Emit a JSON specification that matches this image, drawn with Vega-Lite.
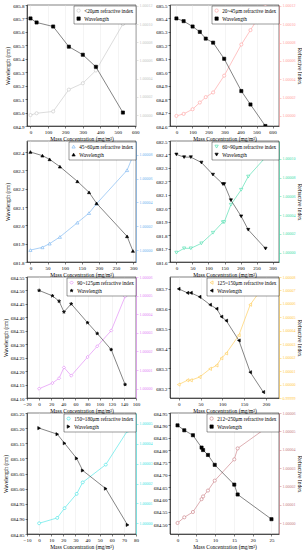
{
"$schema": "https://vega.github.io/schema/vega-lite/v6.json",
"padding": {"left": 3, "top": 2, "right": 0, "bottom": 2},
"bounds": "flush",
"columns": 2,
"spacing": {"row": 15, "column": 34},
"datasets": {
"p1": [{"x":0,"wl":685.70,"ri":1.0},{"x":35,"wl":685.67,"ri":1.000002},{"x":130,"wl":685.64,"ri":1.000004},{"x":220,"wl":685.49,"ri":1.000028},{"x":300,"wl":685.43,"ri":1.000035},{"x":375,"wl":685.34,"ri":1.000049},{"x":530,"wl":685.00,"ri":1.0001}],
"p2": [{"x":0,"wl":685.40,"ri":1.0},{"x":45,"wl":685.38,"ri":1.0000022},{"x":101,"wl":685.34,"ri":1.0000073},{"x":146,"wl":685.30,"ri":1.0000146},{"x":183,"wl":685.25,"ri":1.0000205},{"x":229,"wl":685.22,"ri":1.0000256},{"x":298,"wl":685.10,"ri":1.0000439},{"x":405,"wl":684.86,"ri":1.0000779},{"x":462,"wl":684.76,"ri":1.0000936},{"x":555,"wl":684.60,"ri":1.0001196}],
"p3": [{"x":0,"wl":682.40,"ri":1.0},{"x":35,"wl":682.38,"ri":1.0000023},{"x":56,"wl":682.36,"ri":1.0000054},{"x":86,"wl":682.32,"ri":1.000011},{"x":137,"wl":682.24,"ri":1.000023},{"x":171,"wl":682.18,"ri":1.000031},{"x":193,"wl":682.12,"ri":1.0000389},{"x":282,"wl":681.94,"ri":1.000067},{"x":299,"wl":681.86,"ri":1.0000789}],
"p4": [{"x":0,"wl":682.40,"ri":1.0},{"x":24,"wl":682.38,"ri":1.0000046},{"x":45,"wl":682.38,"ri":1.0000046},{"x":78,"wl":682.34,"ri":1.0000099},{"x":114,"wl":682.25,"ri":1.0000212},{"x":145,"wl":682.18,"ri":1.0000325},{"x":149,"wl":682.18,"ri":1.0000325},{"x":170,"wl":682.06,"ri":1.0000511},{"x":202,"wl":681.94,"ri":1.000067},{"x":224,"wl":681.84,"ri":1.0000811},{"x":278,"wl":681.70,"ri":1.0001016}],
"p5": [{"x":0,"wl":684.50,"ri":1.0},{"x":22,"wl":684.48,"ri":1.000003},{"x":33,"wl":684.46,"ri":1.0000056},{"x":41,"wl":684.42,"ri":1.0000114},{"x":53,"wl":684.45,"ri":1.000007},{"x":80,"wl":684.38,"ri":1.000017},{"x":96,"wl":684.34,"ri":1.0000228},{"x":119,"wl":684.28,"ri":1.0000312},{"x":142,"wl":684.15,"ri":1.0000495}],
"p6": [{"x":0,"wl":683.70,"ri":1.0},{"x":20,"wl":683.68,"ri":1.0000032},{"x":28,"wl":683.68,"ri":1.0000032},{"x":48,"wl":683.66,"ri":1.0000056},{"x":72,"wl":683.62,"ri":1.0000117},{"x":87,"wl":683.60,"ri":1.0000142},{"x":98,"wl":683.56,"ri":1.0000196},{"x":109,"wl":683.54,"ri":1.0000232},{"x":138,"wl":683.44,"ri":1.0000367},{"x":164,"wl":683.28,"ri":1.0000594},{"x":194,"wl":683.18,"ri":1.0000729}],
"p7": [{"x":0,"wl":685.20,"ri":1.0},{"x":15,"wl":685.18,"ri":1.0000027},{"x":21,"wl":685.15,"ri":1.0000076},{"x":31,"wl":685.10,"ri":1.0000148},{"x":36,"wl":685.06,"ri":1.0000206},{"x":55,"wl":685.00,"ri":1.0000295},{"x":73,"wl":684.88,"ri":1.0000466}],
"p8": [{"x":0,"wl":684.90,"ri":1.0},{"x":1.8,"wl":684.88,"ri":1.0000031},{"x":4.1,"wl":684.86,"ri":1.000006},{"x":6.4,"wl":684.81,"ri":1.000013},{"x":6.8,"wl":684.80,"ri":1.0000145},{"x":8.1,"wl":684.78,"ri":1.0000177},{"x":9.9,"wl":684.74,"ri":1.0000231},{"x":15.1,"wl":684.66,"ri":1.0000347},{"x":16,"wl":684.62,"ri":1.0000407},{"x":25,"wl":684.52,"ri":1.0000539}]
},
"concat": [
{
"width": 109, "height": 121, "data": {"name": "p1"},
"encoding": {"x": {"field": "x", "type": "quantitative", "scale": {"domain": [-20, 605], "nice": false, "zero": false}, "axis": {"values": [0,100,200,300,400,500,600], "title": "Mass Concentration (mg/m³)"}}},
"layer": [
{"encoding": {"y": {"field": "ri", "type": "quantitative", "scale": {"domain": [0.999988, 1.000121], "nice": false, "zero": false}, "axis": {"orient": "right", "values": [1, 1.00002, 1.00004, 1.00006, 1.00008, 1.0001, 1.00012], "format": ".5f", "title": null, "labelColor": "#c4c4c4", "domainColor": "#c4c4c4", "tickColor": "#c4c4c4", "labelFontSize": 4, "titlePadding": 1.5}}},
"layer": [
{"mark": {"type": "line", "color": "#c4c4c4", "strokeWidth": 0.6, "clip": true}, "encoding": {}},
{"mark": {"type": "point", "filled": true, "size": 10, "strokeWidth": 0.6, "opacity": 1, "clip": true}, "encoding": {
"stroke": {"datum": "<20μm refractive index", "type": "nominal", "scale": {"domain": ["<20μm refractive index", "Wavelength"], "range": ["#c4c4c4", "#000000"]}, "title": null},
"fill": {"datum": "<20μm refractive index", "type": "nominal", "scale": {"domain": ["<20μm refractive index", "Wavelength"], "range": ["#ffffff", "#000000"]}, "title": null},
"shape": {"datum": "<20μm refractive index", "type": "nominal", "scale": {"domain": ["<20μm refractive index", "Wavelength"], "range": ["circle", "square"]}, "title": null}}}
]},
{"encoding": {"y": {"field": "wl", "type": "quantitative", "scale": {"domain": [684.9, 685.8], "nice": false, "zero": false}, "axis": {"orient": "left", "values": [684.9, 685, 685.1, 685.2, 685.3, 685.4, 685.5, 685.6, 685.7, 685.8], "format": ".1f", "title": "Wavelength (nm)"}}},
"layer": [
{"mark": {"type": "line", "color": "#333333", "strokeWidth": 0.6, "clip": true}, "encoding": {}},
{"mark": {"type": "point", "filled": true, "size": 10, "strokeWidth": 0.6, "opacity": 1, "clip": true}, "encoding": {
"stroke": {"datum": "Wavelength", "type": "nominal", "scale": {"domain": ["<20μm refractive index", "Wavelength"], "range": ["#c4c4c4", "#000000"]}, "title": null},
"fill": {"datum": "Wavelength", "type": "nominal", "scale": {"domain": ["<20μm refractive index", "Wavelength"], "range": ["#ffffff", "#000000"]}, "title": null},
"shape": {"datum": "Wavelength", "type": "nominal", "scale": {"domain": ["<20μm refractive index", "Wavelength"], "range": ["circle", "square"]}, "title": null}}}
]}
],
"resolve": {"scale": {"y": "independent"}}
},
{
"width": 109, "height": 121, "data": {"name": "p2"},
"encoding": {"x": {"field": "x", "type": "quantitative", "scale": {"domain": [-40, 640], "nice": false, "zero": false}, "axis": {"values": [0,100,200,300,400,500,600], "title": "Mass Concentration (mg/m³)"}}},
"layer": [
{"encoding": {"y": {"field": "ri", "type": "quantitative", "scale": {"domain": [0.999989, 1.000121], "nice": false, "zero": false}, "axis": {"orient": "right", "values": [1, 1.00002, 1.00004, 1.00006, 1.00008, 1.0001, 1.00012], "format": ".5f", "title": "Refractive Index", "labelColor": "#ff9c9c", "domainColor": "#ff9c9c", "tickColor": "#ff9c9c", "labelFontSize": 4, "titlePadding": 1.5}}},
"layer": [
{"mark": {"type": "line", "color": "#ff9c9c", "strokeWidth": 0.6, "clip": true}, "encoding": {}},
{"mark": {"type": "point", "filled": true, "size": 10, "strokeWidth": 0.6, "opacity": 1, "clip": true}, "encoding": {
"stroke": {"datum": "20~45μm refractive index", "type": "nominal", "scale": {"domain": ["20~45μm refractive index", "Wavelength"], "range": ["#ff9c9c", "#000000"]}, "title": null},
"fill": {"datum": "20~45μm refractive index", "type": "nominal", "scale": {"domain": ["20~45μm refractive index", "Wavelength"], "range": ["#ffffff", "#000000"]}, "title": null},
"shape": {"datum": "20~45μm refractive index", "type": "nominal", "scale": {"domain": ["20~45μm refractive index", "Wavelength"], "range": ["circle", "square"]}, "title": null}}}
]},
{"encoding": {"y": {"field": "wl", "type": "quantitative", "scale": {"domain": [684.6, 685.5], "nice": false, "zero": false}, "axis": {"orient": "left", "values": [684.6, 684.7, 684.8, 684.9, 685, 685.1, 685.2, 685.3, 685.4, 685.5], "format": ".1f", "title": null}}},
"layer": [
{"mark": {"type": "line", "color": "#333333", "strokeWidth": 0.6, "clip": true}, "encoding": {}},
{"mark": {"type": "point", "filled": true, "size": 10, "strokeWidth": 0.6, "opacity": 1, "clip": true}, "encoding": {
"stroke": {"datum": "Wavelength", "type": "nominal", "scale": {"domain": ["20~45μm refractive index", "Wavelength"], "range": ["#ff9c9c", "#000000"]}, "title": null},
"fill": {"datum": "Wavelength", "type": "nominal", "scale": {"domain": ["20~45μm refractive index", "Wavelength"], "range": ["#ffffff", "#000000"]}, "title": null},
"shape": {"datum": "Wavelength", "type": "nominal", "scale": {"domain": ["20~45μm refractive index", "Wavelength"], "range": ["circle", "square"]}, "title": null}}}
]}
],
"resolve": {"scale": {"y": "independent"}}
},
{
"width": 109, "height": 121, "data": {"name": "p3"},
"encoding": {"x": {"field": "x", "type": "quantitative", "scale": {"domain": [-10, 308], "nice": false, "zero": false}, "axis": {"values": [0,50,100,150,200,250,300], "title": "Mass Concentration (mg/m³)"}}},
"layer": [
{"encoding": {"y": {"field": "ri", "type": "quantitative", "scale": {"domain": [0.99999, 1.0000915], "nice": false, "zero": false}, "axis": {"orient": "right", "values": [1, 1.00002, 1.00004, 1.00006, 1.00008], "format": ".5f", "title": null, "labelColor": "#70b0f0", "domainColor": "#70b0f0", "tickColor": "#70b0f0", "labelFontSize": 4, "titlePadding": 1.5}}},
"layer": [
{"mark": {"type": "line", "color": "#70b0f0", "strokeWidth": 0.6, "clip": true}, "encoding": {}},
{"mark": {"type": "point", "filled": true, "size": 10, "strokeWidth": 0.6, "opacity": 1, "clip": true}, "encoding": {
"stroke": {"datum": "45~60μm refractive index", "type": "nominal", "scale": {"domain": ["45~60μm refractive index", "Wavelength"], "range": ["#70b0f0", "#000000"]}, "title": null},
"fill": {"datum": "45~60μm refractive index", "type": "nominal", "scale": {"domain": ["45~60μm refractive index", "Wavelength"], "range": ["#ffffff", "#000000"]}, "title": null},
"shape": {"datum": "45~60μm refractive index", "type": "nominal", "scale": {"domain": ["45~60μm refractive index", "Wavelength"], "range": ["triangle-up", "triangle-up"]}, "title": null}}}
]},
{"encoding": {"y": {"field": "wl", "type": "quantitative", "scale": {"domain": [681.8, 682.46], "nice": false, "zero": false}, "axis": {"orient": "left", "values": [681.8, 681.9, 682, 682.1, 682.2, 682.3, 682.4], "format": ".1f", "title": "Wavelength (nm)"}}},
"layer": [
{"mark": {"type": "line", "color": "#333333", "strokeWidth": 0.6, "clip": true}, "encoding": {}},
{"mark": {"type": "point", "filled": true, "size": 10, "strokeWidth": 0.6, "opacity": 1, "clip": true}, "encoding": {
"stroke": {"datum": "Wavelength", "type": "nominal", "scale": {"domain": ["45~60μm refractive index", "Wavelength"], "range": ["#70b0f0", "#000000"]}, "title": null},
"fill": {"datum": "Wavelength", "type": "nominal", "scale": {"domain": ["45~60μm refractive index", "Wavelength"], "range": ["#ffffff", "#000000"]}, "title": null},
"shape": {"datum": "Wavelength", "type": "nominal", "scale": {"domain": ["45~60μm refractive index", "Wavelength"], "range": ["triangle-up", "triangle-up"]}, "title": null}}}
]}
],
"resolve": {"scale": {"y": "independent"}}
},
{
"width": 109, "height": 121, "data": {"name": "p4"},
"encoding": {"x": {"field": "x", "type": "quantitative", "scale": {"domain": [-20, 320], "nice": false, "zero": false}, "axis": {"values": [0,50,100,150,200,250,300], "title": "Mass Concentration (mg/m³)"}}},
"layer": [
{"encoding": {"y": {"field": "ri", "type": "quantitative", "scale": {"domain": [0.99999, 1.000119], "nice": false, "zero": false}, "axis": {"orient": "right", "values": [1, 1.00002, 1.00004, 1.00006, 1.00008, 1.0001, 1.00012], "format": ".5f", "title": "Refractive Index", "labelColor": "#40dca8", "domainColor": "#40dca8", "tickColor": "#40dca8", "labelFontSize": 4, "titlePadding": 1.5}}},
"layer": [
{"mark": {"type": "line", "color": "#40dca8", "strokeWidth": 0.6, "clip": true}, "encoding": {}},
{"mark": {"type": "point", "filled": true, "size": 10, "strokeWidth": 0.6, "opacity": 1, "clip": true}, "encoding": {
"stroke": {"datum": "60~90μm refractive index", "type": "nominal", "scale": {"domain": ["60~90μm refractive index", "Wavelength"], "range": ["#40dca8", "#000000"]}, "title": null},
"fill": {"datum": "60~90μm refractive index", "type": "nominal", "scale": {"domain": ["60~90μm refractive index", "Wavelength"], "range": ["#ffffff", "#000000"]}, "title": null},
"shape": {"datum": "60~90μm refractive index", "type": "nominal", "scale": {"domain": ["60~90μm refractive index", "Wavelength"], "range": ["triangle-down", "triangle-down"]}, "title": null}}}
]},
{"encoding": {"y": {"field": "wl", "type": "quantitative", "scale": {"domain": [681.6, 682.5], "nice": false, "zero": false}, "axis": {"orient": "left", "values": [681.6, 681.7, 681.8, 681.9, 682, 682.1, 682.2, 682.3, 682.4, 682.5], "format": ".1f", "title": null}}},
"layer": [
{"mark": {"type": "line", "color": "#333333", "strokeWidth": 0.6, "clip": true}, "encoding": {}},
{"mark": {"type": "point", "filled": true, "size": 10, "strokeWidth": 0.6, "opacity": 1, "clip": true}, "encoding": {
"stroke": {"datum": "Wavelength", "type": "nominal", "scale": {"domain": ["60~90μm refractive index", "Wavelength"], "range": ["#40dca8", "#000000"]}, "title": null},
"fill": {"datum": "Wavelength", "type": "nominal", "scale": {"domain": ["60~90μm refractive index", "Wavelength"], "range": ["#ffffff", "#000000"]}, "title": null},
"shape": {"datum": "Wavelength", "type": "nominal", "scale": {"domain": ["60~90μm refractive index", "Wavelength"], "range": ["triangle-down", "triangle-down"]}, "title": null}}}
]}
],
"resolve": {"scale": {"y": "independent"}}
},
{
"width": 109, "height": 121, "data": {"name": "p5"},
"encoding": {"x": {"field": "x", "type": "quantitative", "scale": {"domain": [-20, 160], "nice": false, "zero": false}, "axis": {"values": [-20,0,20,40,60,80,100,120,140,160], "title": "Mass Concentration (mg/m³)"}}},
"layer": [
{"encoding": {"y": {"field": "ri", "type": "quantitative", "scale": {"domain": [0.999995, 1.00006], "nice": false, "zero": false}, "axis": {"orient": "right", "values": [1, 1.00001, 1.00002, 1.00003, 1.00004, 1.00005, 1.00006], "format": ".5f", "title": null, "labelColor": "#df80f5", "domainColor": "#df80f5", "tickColor": "#df80f5", "labelFontSize": 4, "titlePadding": 1.5}}},
"layer": [
{"mark": {"type": "line", "color": "#df80f5", "strokeWidth": 0.6, "clip": true}, "encoding": {}},
{"mark": {"type": "point", "filled": true, "size": 10, "strokeWidth": 0.6, "opacity": 1, "clip": true}, "encoding": {
"stroke": {"datum": "90~125μm refractive index", "type": "nominal", "scale": {"domain": ["90~125μm refractive index", "Wavelength"], "range": ["#df80f5", "#000000"]}, "title": null},
"fill": {"datum": "90~125μm refractive index", "type": "nominal", "scale": {"domain": ["90~125μm refractive index", "Wavelength"], "range": ["#ffffff", "#000000"]}, "title": null},
"shape": {"datum": "90~125μm refractive index", "type": "nominal", "scale": {"domain": ["90~125μm refractive index", "Wavelength"], "range": ["diamond", "M0,-1L0.225,-0.309L0.951,-0.309L0.363,0.118L0.588,0.809L0,0.382L-0.588,0.809L-0.363,0.118L-0.951,-0.309L-0.225,-0.309Z"]}, "title": null}}}
]},
{"encoding": {"y": {"field": "wl", "type": "quantitative", "scale": {"domain": [684.1, 684.55], "nice": false, "zero": false}, "axis": {"orient": "left", "values": [684.1, 684.15, 684.2, 684.25, 684.3, 684.35, 684.4, 684.45, 684.5, 684.55], "format": ".2f", "title": "Wavelength (nm)"}}},
"layer": [
{"mark": {"type": "line", "color": "#333333", "strokeWidth": 0.6, "clip": true}, "encoding": {}},
{"mark": {"type": "point", "filled": true, "size": 12, "strokeWidth": 0.6, "opacity": 1, "clip": true}, "encoding": {
"stroke": {"datum": "Wavelength", "type": "nominal", "scale": {"domain": ["90~125μm refractive index", "Wavelength"], "range": ["#df80f5", "#000000"]}, "title": null},
"fill": {"datum": "Wavelength", "type": "nominal", "scale": {"domain": ["90~125μm refractive index", "Wavelength"], "range": ["#ffffff", "#000000"]}, "title": null},
"shape": {"datum": "Wavelength", "type": "nominal", "scale": {"domain": ["90~125μm refractive index", "Wavelength"], "range": ["diamond", "M0,-1L0.225,-0.309L0.951,-0.309L0.363,0.118L0.588,0.809L0,0.382L-0.588,0.809L-0.363,0.118L-0.951,-0.309L-0.225,-0.309Z"]}, "title": null}}}
]}
],
"resolve": {"scale": {"y": "independent"}}
},
{
"width": 109, "height": 121, "data": {"name": "p6"},
"encoding": {"x": {"field": "x", "type": "quantitative", "scale": {"domain": [-20, 230], "nice": false, "zero": false}, "axis": {"values": [0,50,100,150,200], "title": "Mass Concentration (mg/m³)"}}},
"layer": [
{"encoding": {"y": {"field": "ri", "type": "quantitative", "scale": {"domain": [0.99999, 1.00008], "nice": false, "zero": false}, "axis": {"orient": "right", "values": [0.99999, 1, 1.00001, 1.00002, 1.00003, 1.00004, 1.00005, 1.00006, 1.00007, 1.00008], "format": ".5f", "title": "Refractive Index", "labelColor": "#ffc848", "domainColor": "#ffc848", "tickColor": "#ffc848", "labelFontSize": 4, "titlePadding": 1.5}}},
"layer": [
{"mark": {"type": "line", "color": "#ffc848", "strokeWidth": 0.6, "clip": true}, "encoding": {}},
{"mark": {"type": "point", "filled": true, "size": 10, "strokeWidth": 0.6, "opacity": 1, "clip": true}, "encoding": {
"stroke": {"datum": "125~150μm refractive index", "type": "nominal", "scale": {"domain": ["125~150μm refractive index", "Wavelength"], "range": ["#ffc848", "#000000"]}, "title": null},
"fill": {"datum": "125~150μm refractive index", "type": "nominal", "scale": {"domain": ["125~150μm refractive index", "Wavelength"], "range": ["#ffffff", "#000000"]}, "title": null},
"shape": {"datum": "125~150μm refractive index", "type": "nominal", "scale": {"domain": ["125~150μm refractive index", "Wavelength"], "range": ["triangle-left", "triangle-left"]}, "title": null}}}
]},
{"encoding": {"y": {"field": "wl", "type": "quantitative", "scale": {"domain": [683.15, 683.76], "nice": false, "zero": false}, "axis": {"orient": "left", "values": [683.2, 683.3, 683.4, 683.5, 683.6, 683.7], "format": ".1f", "title": null}}},
"layer": [
{"mark": {"type": "line", "color": "#333333", "strokeWidth": 0.6, "clip": true}, "encoding": {}},
{"mark": {"type": "point", "filled": true, "size": 10, "strokeWidth": 0.6, "opacity": 1, "clip": true}, "encoding": {
"stroke": {"datum": "Wavelength", "type": "nominal", "scale": {"domain": ["125~150μm refractive index", "Wavelength"], "range": ["#ffc848", "#000000"]}, "title": null},
"fill": {"datum": "Wavelength", "type": "nominal", "scale": {"domain": ["125~150μm refractive index", "Wavelength"], "range": ["#ffffff", "#000000"]}, "title": null},
"shape": {"datum": "Wavelength", "type": "nominal", "scale": {"domain": ["125~150μm refractive index", "Wavelength"], "range": ["triangle-left", "triangle-left"]}, "title": null}}}
]}
],
"resolve": {"scale": {"y": "independent"}}
},
{
"width": 109, "height": 121, "data": {"name": "p7"},
"encoding": {"x": {"field": "x", "type": "quantitative", "scale": {"domain": [-10, 80], "nice": false, "zero": false}, "axis": {"values": [-10,0,10,20,30,40,50,60,70,80], "title": "Mass Concentration (mg/m³)"}}},
"layer": [
{"encoding": {"y": {"field": "ri", "type": "quantitative", "scale": {"domain": [0.9999946, 1.0000555], "nice": false, "zero": false}, "axis": {"orient": "right", "values": [1, 1.00001, 1.00002, 1.00003, 1.00004, 1.00005], "format": ".5f", "title": null, "labelColor": "#40e4e4", "domainColor": "#40e4e4", "tickColor": "#40e4e4", "labelFontSize": 4, "titlePadding": 1.5}}},
"layer": [
{"mark": {"type": "line", "color": "#40e4e4", "strokeWidth": 0.6, "clip": true}, "encoding": {}},
{"mark": {"type": "point", "filled": true, "size": 10, "strokeWidth": 0.6, "opacity": 1, "clip": true}, "encoding": {
"stroke": {"datum": "150~180μm refractive index", "type": "nominal", "scale": {"domain": ["150~180μm refractive index", "Wavelength"], "range": ["#40e4e4", "#000000"]}, "title": null},
"fill": {"datum": "150~180μm refractive index", "type": "nominal", "scale": {"domain": ["150~180μm refractive index", "Wavelength"], "range": ["#ffffff", "#000000"]}, "title": null},
"shape": {"datum": "150~180μm refractive index", "type": "nominal", "scale": {"domain": ["150~180μm refractive index", "Wavelength"], "range": ["M1,0L0.5,0.866L-0.5,0.866L-1,0L-0.5,-0.866L0.5,-0.866Z", "triangle-right"]}, "title": null}}}
]},
{"encoding": {"y": {"field": "wl", "type": "quantitative", "scale": {"domain": [684.85, 685.25], "nice": false, "zero": false}, "axis": {"orient": "left", "values": [684.85, 684.9, 684.95, 685, 685.05, 685.1, 685.15, 685.2, 685.25], "format": ".2f", "title": "Wavelength (nm)"}}},
"layer": [
{"mark": {"type": "line", "color": "#333333", "strokeWidth": 0.6, "clip": true}, "encoding": {}},
{"mark": {"type": "point", "filled": true, "size": 10, "strokeWidth": 0.6, "opacity": 1, "clip": true}, "encoding": {
"stroke": {"datum": "Wavelength", "type": "nominal", "scale": {"domain": ["150~180μm refractive index", "Wavelength"], "range": ["#40e4e4", "#000000"]}, "title": null},
"fill": {"datum": "Wavelength", "type": "nominal", "scale": {"domain": ["150~180μm refractive index", "Wavelength"], "range": ["#ffffff", "#000000"]}, "title": null},
"shape": {"datum": "Wavelength", "type": "nominal", "scale": {"domain": ["150~180μm refractive index", "Wavelength"], "range": ["M1,0L0.5,0.866L-0.5,0.866L-1,0L-0.5,-0.866L0.5,-0.866Z", "triangle-right"]}, "title": null}}}
]}
],
"resolve": {"scale": {"y": "independent"}}
},
{
"width": 109, "height": 121, "data": {"name": "p8"},
"encoding": {"x": {"field": "x", "type": "quantitative", "scale": {"domain": [-2, 27], "nice": false, "zero": false}, "axis": {"values": [0,5,10,15,20,25], "title": "Mass Concentration (mg/m³)"}}},
"layer": [
{"encoding": {"y": {"field": "ri", "type": "quantitative", "scale": {"domain": [0.999994, 1.00006], "nice": false, "zero": false}, "axis": {"orient": "right", "values": [1, 1.00001, 1.00002, 1.00003, 1.00004, 1.00005, 1.00006], "format": ".5f", "title": "Refractive Index", "labelColor": "#c87880", "domainColor": "#c87880", "tickColor": "#c87880", "labelFontSize": 4, "titlePadding": 1.5}}},
"layer": [
{"mark": {"type": "line", "color": "#c87880", "strokeWidth": 0.6, "clip": true}, "encoding": {}},
{"mark": {"type": "point", "filled": true, "size": 10, "strokeWidth": 0.6, "opacity": 1, "clip": true}, "encoding": {
"stroke": {"datum": "212~250μm refractive index", "type": "nominal", "scale": {"domain": ["212~250μm refractive index", "Wavelength"], "range": ["#c87880", "#000000"]}, "title": null},
"fill": {"datum": "212~250μm refractive index", "type": "nominal", "scale": {"domain": ["212~250μm refractive index", "Wavelength"], "range": ["#ffffff", "#000000"]}, "title": null},
"shape": {"datum": "212~250μm refractive index", "type": "nominal", "scale": {"domain": ["212~250μm refractive index", "Wavelength"], "range": ["circle", "square"]}, "title": null}}}
]},
{"encoding": {"y": {"field": "wl", "type": "quantitative", "scale": {"domain": [684.46, 684.95], "nice": false, "zero": false}, "axis": {"orient": "left", "values": [684.5, 684.55, 684.6, 684.65, 684.7, 684.75, 684.8, 684.85, 684.9, 684.95], "format": ".2f", "title": null}}},
"layer": [
{"mark": {"type": "line", "color": "#333333", "strokeWidth": 0.6, "clip": true}, "encoding": {}},
{"mark": {"type": "point", "filled": true, "size": 10, "strokeWidth": 0.6, "opacity": 1, "clip": true}, "encoding": {
"stroke": {"datum": "Wavelength", "type": "nominal", "scale": {"domain": ["212~250μm refractive index", "Wavelength"], "range": ["#c87880", "#000000"]}, "title": null},
"fill": {"datum": "Wavelength", "type": "nominal", "scale": {"domain": ["212~250μm refractive index", "Wavelength"], "range": ["#ffffff", "#000000"]}, "title": null},
"shape": {"datum": "Wavelength", "type": "nominal", "scale": {"domain": ["212~250μm refractive index", "Wavelength"], "range": ["circle", "square"]}, "title": null}}}
]}
],
"resolve": {"scale": {"y": "independent"}}
}
],
"resolve": {"scale": {"x": "independent", "y": "independent", "stroke": "independent", "fill": "independent", "shape": "independent"}, "axis": {"x": "independent", "y": "independent"}, "legend": {"stroke": "independent", "fill": "independent", "shape": "independent"}},
"config": {
"font": "Liberation Serif",
"view": {"stroke": "#000000", "strokeWidth": 0.5},
"axis": {"labelFont": "Liberation Serif", "titleFont": "Liberation Serif", "labelFontSize": 5, "titleFontSize": 5.5, "titleFontWeight": "normal", "labelColor": "#000000", "titleColor": "#000000", "domainColor": "#000000", "domainWidth": 0.6, "tickColor": "#000000", "tickWidth": 0.5, "tickSize": 2, "labelPadding": 1, "titlePadding": 2, "grid": false, "labelFlush": false, "labelOverlap": false},
"axisX": {"grid": true, "gridColor": "#e8e8e8", "gridWidth": 0.5},
"legend": {"orient": "top-right", "offset": 0.5, "padding": 2, "strokeColor": "#000000", "strokeWidth": 0.4, "fillColor": "#ffffff", "labelFont": "Liberation Serif", "labelFontSize": 5.2, "symbolSize": 11, "symbolStrokeWidth": 0.6, "rowPadding": 1, "labelOffset": 3, "cornerRadius": 0}
}
}
